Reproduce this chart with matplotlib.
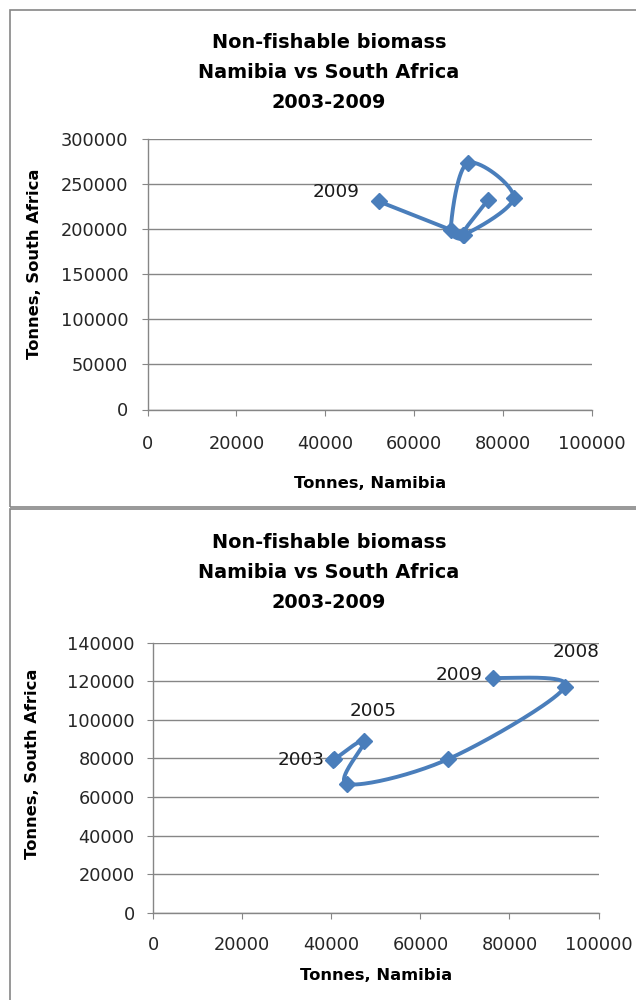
import numpy as np
import matplotlib
matplotlib.use("Agg")
import matplotlib.pyplot as plt
from matplotlib.patches import Rectangle

plt.rcParams['font.family'] = ['DejaVu Sans']

# data (Namibia on x, South Africa on y), years 2003..2009
# (one marker in each chart sits on top of another one)
title_lines = ["Non-fishable biomass", "Namibia vs South Africa", "2003-2009"]
x_label = "Tonnes, Namibia"
y_label = "Tonnes, South Africa"

top_namibia = [76500, 71000, 82400, 72000, 68200, 71300, 52000]
top_sa = [231700, 193700, 234700, 273000, 198500, 193000, 230600]
top_labels = ["", "", "", "", "", "", "2009"]
top_xticks = [0, 20000, 40000, 60000, 80000, 100000]
top_yticks = [0, 50000, 100000, 150000, 200000, 250000, 300000]

bot_namibia = [40400, 40700, 47400, 43600, 66300, 92500, 76200]
bot_sa = [79200, 79600, 89000, 66700, 79700, 117200, 121800]
bot_labels = ["2003", "", "2005", "", "", "2008", "2009"]
bot_xticks = [0, 20000, 40000, 60000, 80000, 100000]
bot_yticks = [0, 20000, 40000, 60000, 80000, 100000, 120000, 140000]

W, H = 636, 1000
BLUE = '#4a7ebb'
GRAY = '#868686'


def smooth(xs, ys, sx, sy, n=40):
    '''Excel-like smoothed line: bezier segments through the points (done in pixel-ish space)'''
    p = np.column_stack([np.asarray(xs) / sx, np.asarray(ys) / sy])
    pts = np.vstack([p[0], p, p[-1]])
    t = np.linspace(0, 1, n)[:, None]
    segs = []
    for i in range(1, len(pts) - 2):
        p0, p1, p2, p3 = pts[i - 1], pts[i], pts[i + 1], pts[i + 2]
        c1 = p1 + (p2 - p0) / 6
        c2 = p2 - (p3 - p1) / 6
        segs.append((1 - t)**3 * p1 + 3 * (1 - t)**2 * t * c1 + 3 * (1 - t) * t**2 * c2 + t**3 * p2)
    c = np.vstack(segs)
    return c[:, 0] * sx, c[:, 1] * sy


def px(x, y):
    return x / W, 1 - y / H


fig = plt.figure(figsize=(W / 100, H / 100), dpi=100)

# chart frames
for top, bottom in [(9.5, 507), (508.5, 1010)]:
    fig.patches.append(Rectangle(px(9.5, bottom), (650 - 9.5) / W, (bottom - top) / H,
                                 transform=fig.transFigure, fill=False, edgecolor=GRAY, lw=1.2))


def make_chart(box, xs, ys, labels, xticks, yticks, offsets, title_y, xlab_y, ylab_pos, xpad, ypad):
    left, top, right, bottom = box
    ax = fig.add_axes([left / W, 1 - bottom / H, (right - left) / W, (bottom - top) / H])
    ax.set_xlim(xticks[0], xticks[-1])
    ax.set_ylim(yticks[0], yticks[-1])
    ax.set_xticks(xticks)
    ax.set_yticks(yticks)
    ax.set_xticklabels([str(v) for v in xticks])
    ax.set_yticklabels([str(v) for v in yticks])
    for s in ['top', 'right']:
        ax.spines[s].set_visible(False)
    for s in ['left', 'bottom']:
        ax.spines[s].set_color(GRAY)
        ax.spines[s].set_linewidth(1)
    ax.yaxis.grid(True, color=GRAY, lw=1)
    ax.set_axisbelow(True)
    ax.tick_params(axis='both', direction='out', length=4.5, color=GRAY, labelsize=12.8, labelcolor='#262626')
    ax.tick_params(axis='x', pad=xpad)
    ax.tick_params(axis='y', pad=ypad)

    sx = (xticks[-1] - xticks[0]) / (right - left)
    sy = (yticks[-1] - yticks[0]) / (bottom - top)
    cx, cy = smooth(xs, ys, sx, sy)
    ax.plot(cx, cy, color=BLUE, lw=2.8, solid_capstyle='round', clip_on=False, zorder=3)
    ax.plot(xs, ys, linestyle='none', marker='D', markersize=8, color=BLUE, clip_on=False, zorder=4)

    for x, y, lab, off in zip(xs, ys, labels, offsets):
        if lab:
            ha = 'right' if off[0] < -3 else 'center'
            ax.annotate(lab, (x, y), xytext=off, textcoords='offset points',
                        ha=ha, va='center', fontsize=13.2, color='#1a1a1a')

    for i, line in enumerate(title_lines):
        fig.text(*px(329, title_y + 30 * i), line, ha='center', va='center',
                 fontsize=13.9, fontweight='bold')
    fig.text(*px((left + right) / 2, xlab_y), x_label, ha='center', va='center',
             fontsize=11.8, fontweight='bold')
    fig.text(*px(*ylab_pos), y_label, ha='center', va='center', rotation=90,
             fontsize=11.8, fontweight='bold')
    return ax


top_offsets = [(0, 0)] * 6 + [(-14, 7)]
bot_offsets = [(-6.5, 0), (0, 0), (6.5, 22), (0, 0), (0, 0), (8, 25), (-7, 2)]

make_chart((147.5, 138.7, 592, 409.5), top_namibia, top_sa, top_labels, top_xticks, top_yticks,
           top_offsets, 43, 483, (35, 264), 14, 9.4)
make_chart((153.3, 642.7, 598.5, 912.7), bot_namibia, bot_sa, bot_labels, bot_xticks, bot_yticks,
           bot_offsets, 543, 976, (33, 764), 12.6, 8.9)

fig.savefig('out.png', dpi=100)
